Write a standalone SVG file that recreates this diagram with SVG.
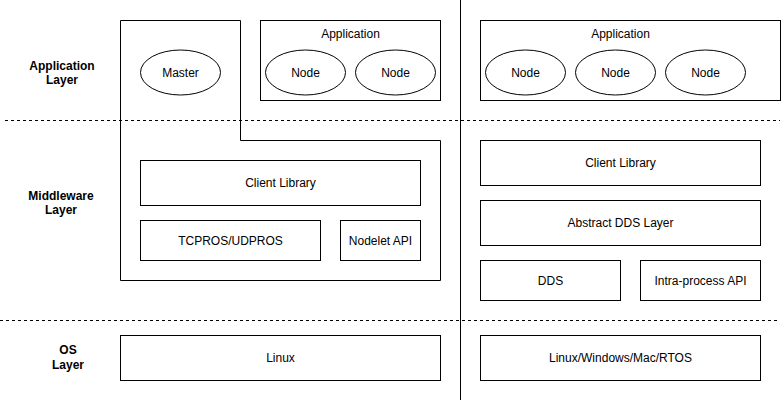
<svg xmlns="http://www.w3.org/2000/svg" width="782" height="402" viewBox="0 0 782 402">
<style>
.b{fill:#fff;stroke:#000;stroke-width:1}
.t{font-family:"Liberation Sans",Arial,sans-serif;font-size:12px;fill:#000;text-anchor:middle;dominant-baseline:central}
.h{font-weight:bold}
.d{stroke:#000;stroke-width:1;stroke-dasharray:3 3;fill:none}
</style>
<rect width="782" height="402" fill="#fff"/>
<g id="dividers">
<line class="d" x1="5" y1="120.5" x2="780" y2="120.5"/>
<line class="d" x1="0" y1="320.5" x2="780" y2="320.5"/>
<line x1="460.5" y1="0" x2="460.5" y2="400" stroke="#000"/>
</g>
<g id="labels">
<text class="t h" x="62" y="66">Application</text>
<text class="t h" x="62" y="80">Layer</text>
<text class="t h" x="61" y="196">Middleware</text>
<text class="t h" x="61" y="210">Layer</text>
<text class="t h" x="68" y="350">OS</text>
<text class="t h" x="68" y="365">Layer</text>
</g>
<g id="ros1-frame">
<path d="M120.5 20.5H240.5V140.5H440.5V280.5H120.5Z" fill="none" stroke="#000"/>
</g>
<g id="master">
<ellipse class="b" cx="180.5" cy="72.5" rx="40" ry="22.5"/>
<text class="t" x="180.5" y="72.5">Master</text>
</g>
<g id="app1">
<rect class="b" x="260.5" y="20.5" width="180" height="80"/>
<text class="t" x="350.5" y="33.5">Application</text>
</g>
<g id="node1"><ellipse class="b" cx="305.5" cy="72.5" rx="40" ry="22.5"/><text class="t" x="305.5" y="72.5">Node</text></g>
<g id="node2"><ellipse class="b" cx="395.5" cy="72.5" rx="40" ry="22.5"/><text class="t" x="395.5" y="72.5">Node</text></g>
<g id="app2">
<rect class="b" x="480.5" y="20.5" width="300" height="80"/>
<text class="t" x="620.5" y="33.5">Application</text>
</g>
<g id="node3"><ellipse class="b" cx="525.5" cy="72.5" rx="40" ry="22.5"/><text class="t" x="525.5" y="72.5">Node</text></g>
<g id="node4"><ellipse class="b" cx="615.5" cy="72.5" rx="40" ry="22.5"/><text class="t" x="615.5" y="72.5">Node</text></g>
<g id="node5"><ellipse class="b" cx="705.5" cy="72.5" rx="40" ry="22.5"/><text class="t" x="705.5" y="72.5">Node</text></g>
<g id="client1"><rect class="b" x="140.5" y="160.5" width="280" height="45"/><text class="t" x="280.5" y="183">Client Library</text></g>
<g id="tcpros"><rect class="b" x="140.5" y="220.5" width="180" height="40"/><text class="t" x="230.5" y="240.5">TCPROS/UDPROS</text></g>
<g id="nodelet"><rect class="b" x="340.5" y="220.5" width="80" height="40"/><text class="t" x="380.5" y="240.5">Nodelet API</text></g>
<g id="client2"><rect class="b" x="480.5" y="140.5" width="280" height="45"/><text class="t" x="620.5" y="163">Client Library</text></g>
<g id="abstract"><rect class="b" x="480.5" y="200.5" width="280" height="45"/><text class="t" x="620.5" y="223">Abstract DDS Layer</text></g>
<g id="dds"><rect class="b" x="480.5" y="260.5" width="140" height="40"/><text class="t" x="550.5" y="280.5">DDS</text></g>
<g id="intra"><rect class="b" x="640.5" y="260.5" width="120" height="40"/><text class="t" x="700.5" y="280.5">Intra-process API</text></g>
<g id="linux"><rect class="b" x="120.5" y="335.5" width="320" height="45"/><text class="t" x="280.5" y="358">Linux</text></g>
<g id="multios"><rect class="b" x="480.5" y="335.5" width="280" height="45"/><text class="t" x="620.5" y="358">Linux/Windows/Mac/RTOS</text></g>
<g id="connectors"></g>
</svg>
